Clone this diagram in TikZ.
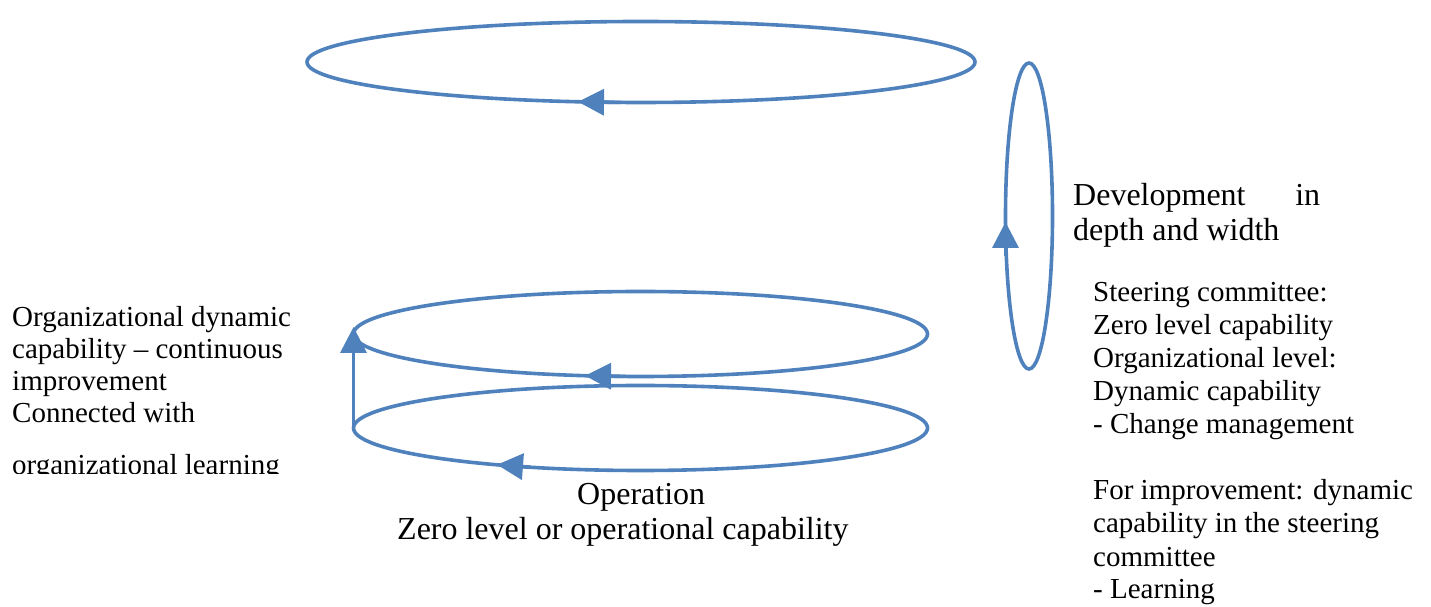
\documentclass[tikz,border=0pt]{standalone}
\usepackage{fontspec}
\setmainfont{Liberation Serif}
\usetikzlibrary{shapes.geometric,arrows.meta}
\definecolor{loopblue}{HTML}{4F81BD}
\begin{document}
\begin{tikzpicture}[x=1pt,y=1pt,
  loop/.style={draw=loopblue, line width=3.6pt, ellipse, inner sep=0pt, outer sep=0pt},
  head/.style={draw=loopblue, line width=3.6pt, -{Triangle[length=26pt,width=26pt]}},
  txt/.style={inner sep=0pt, font=\fontsize{29}{33}\selectfont, align=left, anchor=base west},
  bigtxt/.style={txt, font=\fontsize{32}{35}\selectfont}]
\useasboundingbox (0,0) rectangle (1431,607);

% loops
\node[loop, minimum width=668, minimum height=81] (top) at (641,545) {};
\node[loop, minimum width=47, minimum height=306] (side) at (1029,391) {};
\node[loop, minimum width=574, minimum height=85] (mid) at (640.5,273) {};
\node[loop, minimum width=574, minimum height=85] (bot) at (640.5,179) {};

% arrowheads on the loops
\draw[head] ([shift={(-20,0.1)}]top.south) -- ([shift={(-63,0.7)}]top.south);
\draw[head] ([yshift=-40]side.west) -- ([yshift=-6]side.west);
\draw[head] ([shift={(-15,0.1)}]mid.south) -- ([shift={(-55.5,0.8)}]mid.south);
\draw[head] ([shift={(-110,3.3)}]bot.south) -- ([shift={(-143.5,5.8)}]bot.south);
\draw[head] (bot.west) -- ([yshift=7]mid.west);

% texts (anchor = baseline of the last line)
\node[bigtxt] (dev) at (1073,366) {\makebox[247pt][l]{Development\hfill in}\\depth and width};
\node[txt] (steer) at (1093,8) {Steering committee:\\Zero level capability\\Organizational level:\\Dynamic capability\\- Change management\\[33pt]For improvement: dynamic\\capability in the steering\\committee\\- Learning};
\node[txt, font=\fontsize{29}{32}\selectfont] (odc) at (12,184) {Organizational dynamic\\capability – continuous\\improvement\\Connected with};
\begin{scope}
  \clip (0,133.5) rectangle (420,170);
  \node[txt] (orglearn) at (12,132.5) {organizational learning};
\end{scope}
\node[bigtxt] (op) at (397,67) {\hspace*{180pt}Operation\\Zero level or operational capability};
\end{tikzpicture}
\end{document}
